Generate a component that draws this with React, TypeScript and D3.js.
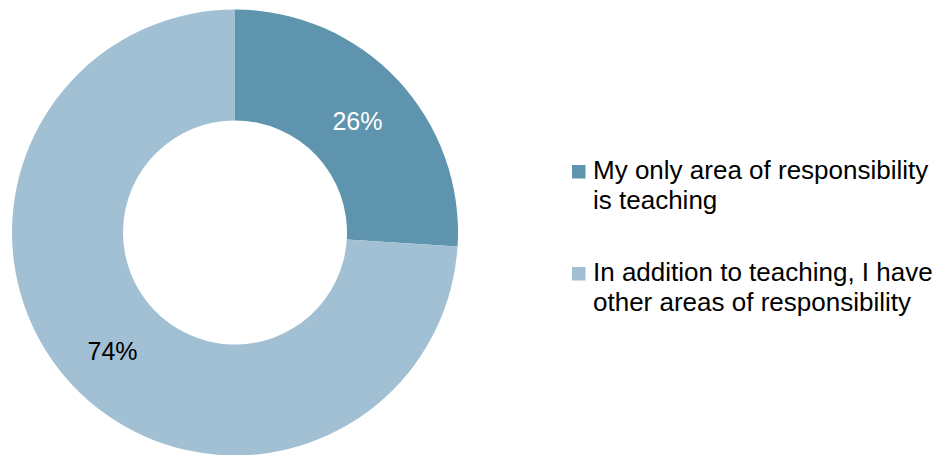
import React from "react";
import * as d3 from "d3";

const categories = [
  "My only area of responsibility is teaching",
  "In addition to teaching, I have other areas of responsibility",
];
const values = [26, 74];
const legendLines = [
  ["My only area of responsibility", "is teaching"],
  ["In addition to teaching, I have", "other areas of responsibility"],
];
const colors = ["#5E94AD", "#A1C0D3"];
const labelColors = ["#ffffff", "#000000"];

export default function App() {
  const W = 946, H = 455;
  const cx = 235, cy = 232.5, R = 223, r = 112;
  const pie = d3.pie<number>().sort(null).value((d) => d);
  const arcs = pie(values);
  const arc = d3.arc<d3.PieArcDatum<number>>().innerRadius(r).outerRadius(R);
  const labelArc = d3.arc<d3.PieArcDatum<number>>().innerRadius(168).outerRadius(168);
  const font = "'Liberation Sans', Arial, sans-serif";
  return (
    <svg width={W} height={H} style={{ position: "absolute", left: 0, top: 0 }}>
      <g transform={`translate(${cx},${cy})`}>
        {arcs.map((a, i) => (
          <path key={i} d={arc(a) || ""} fill={colors[i]} />
        ))}
        {arcs.map((a, i) => {
          const [x, y] = labelArc.centroid(a);
          return (
            <text key={i} x={x} y={y + 3} textAnchor="middle" dominantBaseline="central"
              fontFamily={font} fontSize={25} fill={labelColors[i]}>
              {`${values[i]}%`}
            </text>
          );
        })}
      </g>
      {categories.map((c, i) => (
        <g key={c} transform={`translate(572,${165 + i * 102})`}>
          <rect x={0} y={0} width={13.5} height={13.5} fill={colors[i]} />
          {legendLines[i].map((ln, j) => (
            <text key={j} x={21} y={14 + j * 30} fontFamily={font} fontSize={26} fill="#000">{ln}</text>
          ))}
        </g>
      ))}
    </svg>
  );
}
